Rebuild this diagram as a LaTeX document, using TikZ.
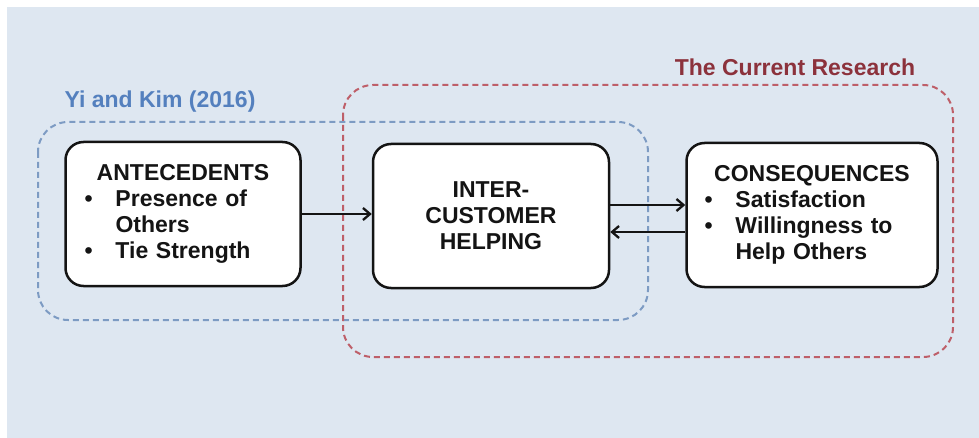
\documentclass[tikz,border=0pt]{standalone}
\usepackage{fontspec}
\setmainfont{Liberation Sans}
\usetikzlibrary{arrows.meta}

\definecolor{bgblue}{RGB}{222,231,241}
\definecolor{yiblue}{RGB}{84,128,190}
\definecolor{yidash}{RGB}{125,155,195}
\definecolor{resred}{RGB}{140,50,60}
\definecolor{resdash}{RGB}{190,95,105}
\definecolor{ink}{RGB}{20,20,20}

\tikzset{
  stage/.style={draw=ink, line width=2.5pt, rounded corners=18pt, fill=white,
    minimum height=144pt, text=ink, font=\fontsize{23}{26}\selectfont\bfseries},
  group/.style={dash pattern=on 6pt off 4pt, line width=2pt, rounded corners=30pt},
  grouplabel/.style={font=\fontsize{23}{26}\selectfont\bfseries},
  link/.style={draw=ink, line width=2.3pt, -{Straight Barb[length=7pt,width=12pt]}}
}
\newcommand{\bul}{\makebox[31pt][l]{\textbullet}}
\newcommand{\nobul}{\hspace*{31pt}}

\begin{document}
\begin{tikzpicture}[x=1pt,y=-1pt]
\useasboundingbox (0,0) rectangle (979,438);
\fill[bgblue] (7,7) rectangle (979,438);

\draw[group,yidash] (38,122) rectangle (648,320);
\draw[group,resdash] (343,85) rectangle (953,357);
\node[grouplabel,text=yiblue] (yikim) at (160,102) {Yi and Kim (2016)};
\node[grouplabel,text=resred] (current) at (795,67) {The Current Research};

\node[stage, minimum width=235pt, text width=197pt, align=left] (ante) at (183,214)
  {\makebox[197pt]{ANTECEDENTS}\\ \bul Presence of\\ \nobul Others\\ \bul Tie Strength};
\node[stage, minimum width=236pt, align=center] (inter) at (491,216)
  {INTER-\\CUSTOMER\\HELPING};
\node[stage, minimum width=251pt, text width=215pt, align=left] (cons) at (812,215)
  {\makebox[215pt]{CONSEQUENCES}\\ \bul Satisfaction\\ \bul Willingness to\\ \nobul Help Others};

\draw[link] (ante.east) -- (ante.east -| inter.west);
\draw[link] ([yshift=11pt]inter.east) -- ([yshift=11pt]inter.east -| cons.west);
\draw[link] ([yshift=-16pt]inter.east -| cons.west) -- ([yshift=-16pt]inter.east);
\end{tikzpicture}
\end{document}
